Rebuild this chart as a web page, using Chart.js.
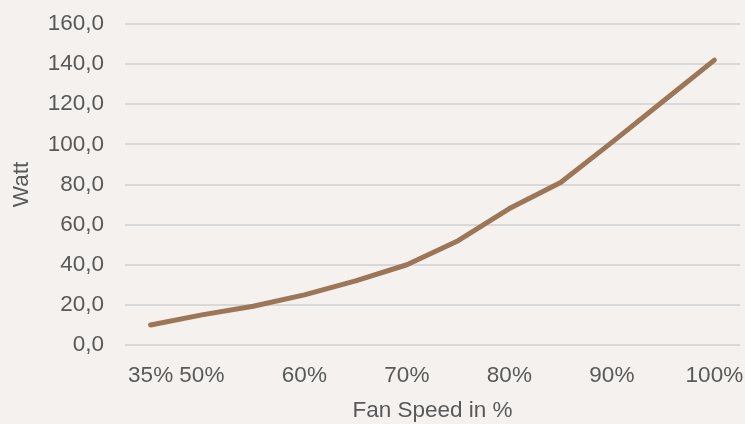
<!DOCTYPE html>
<html>
<head>
<meta charset="utf-8">
<script src="https://cdn.jsdelivr.net/npm/chart.js@4/dist/chart.umd.min.js"></script>
<style>
  html, body { margin: 0; padding: 0; background: #F4F1EE; }
  #wrap { width: 745px; height: 424px; position: relative; }
</style>
</head>
<body>
<div id="wrap"><canvas id="c" width="745" height="424"></canvas></div>
<script>
// Fan speed steps and their power draw
const fanSpeeds = ['35%', '50%', '55%', '60%', '65%', '70%', '75%', '80%', '85%', '90%', '95%', '100%'];
const tickLabels = ['35%', '50%', '', '60%', '', '70%', '', '80%', '', '90%', '', '100%'];
const watts = [10, 15, 19.3, 25, 32, 40, 52, 68, 81, 101, 121.5, 142];

const yTicks = { min: 0, max: 160, step: 20 };

const bgPlugin = {
  id: 'bg',
  beforeDraw(chart) {
    const ctx = chart.ctx;
    ctx.save();
    ctx.fillStyle = '#F4F1EE';
    ctx.fillRect(0, 0, chart.width, chart.height);
    ctx.restore();
  }
};

const font = { family: '"Liberation Sans", Arial, sans-serif', size: 22.5 };

new Chart(document.getElementById('c'), {
  type: 'line',
  data: {
    labels: fanSpeeds,
    datasets: [{
      data: watts,
      borderColor: '#9C7656',
      borderWidth: 5,
      pointRadius: 0,
      tension: 0,
      borderCapStyle: 'round',
      borderJoinStyle: 'round',
      fill: false
    }]
  },
  options: {
    responsive: false,
    animation: false,
    layout: { padding: { left: 0, right: 5, top: 24, bottom: 0 } },
    plugins: { legend: { display: false }, tooltip: { enabled: false } },
    scales: {
      x: {
        offset: true,
        grid: { display: false },
        border: { display: false },
        afterFit: s => { s.height = 79; s.paddingLeft = 0; s.paddingRight = 0; },
        ticks: {
          color: '#595959',
          font: font,
          autoSkip: false,
          maxRotation: 0,
          padding: 9,
          callback: (v, i) => tickLabels[i]
        },
        title: {
          display: true,
          text: 'Fan Speed in %',
          color: '#595959',
          font: font,
          padding: { top: 0, bottom: 0 }
        }
      },
      y: {
        min: yTicks.min,
        max: yTicks.max,
        grid: { color: '#D9D9D9', lineWidth: 2, drawTicks: false },
        border: { display: false },
        afterFit: s => { s.width = 125; s.paddingTop = 0; s.paddingBottom = 0; },
        ticks: {
          stepSize: yTicks.step,
          color: '#595959',
          font: font,
          padding: 21,
          callback: v => v.toFixed(1).replace('.', ',')
        },
        title: {
          display: true,
          text: 'Watt',
          color: '#595959',
          font: font,
          padding: { top: 8.5, bottom: 0 }
        }
      }
    }
  },
  plugins: [bgPlugin]
});
</script>
</body>
</html>
